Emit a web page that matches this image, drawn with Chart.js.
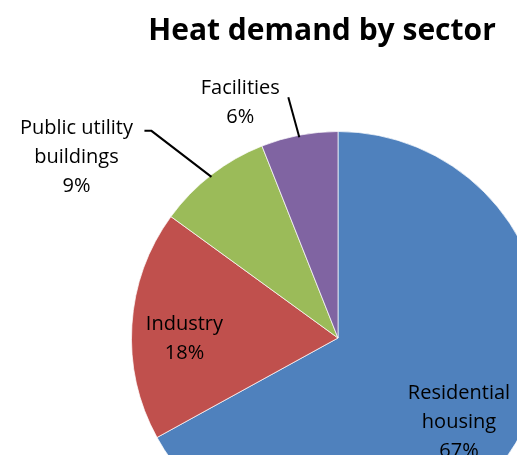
<!DOCTYPE html>
<html>
<head>
<meta charset="utf-8">
<script src="https://cdn.jsdelivr.net/npm/chart.js@4"></script>
<style>
  html, body { margin: 0; padding: 0; overflow: hidden; background: #fff; }
  #wrap { position: absolute; left: 0; top: 0; }
</style>
</head>
<body>
<div id="wrap"><canvas id="heatChart" width="676" height="676"></canvas></div>
<script>
var chartTitle = "Heat demand by sector";
var sectorNames = [["Residential", "housing"], ["Industry"], ["Public utility", "buildings"], ["Facilities"]];
var sectorShare = [67, 18, 9, 6];
var sectorColors = ["#4F81BD", "#C0504D", "#9BBB59", "#8064A2"];

// where each label sits: inside the slice, or outside with a leader line
var labelPlace = [
    { inside: true, r: 0.72, dx: -7, dy: 9 },
    { inside: true, r: 0.745, dx: 0, dy: 10 },
    { inside: false, dx: -135, dy: -18, elbow: [-60, -44], lineEnd: [-67, -44] },
    { inside: false, dx: -59, dy: -32, elbow: [-11, -38], lineEnd: [-11, -38] }
];

var labelFont = "20px 'Open Sans'";
var lineGap = 29;

var pieLabels = {
    id: 'pieLabels',
    afterDatasetsDraw: function (chart) {
        var ctx = chart.ctx;
        var meta = chart.getDatasetMeta(0);
        ctx.save();
        ctx.fillStyle = "#000";
        ctx.textAlign = "center";
        ctx.textBaseline = "middle";

        // title
        ctx.font = "bold 30px 'Open Sans'";
        ctx.fillText(chartTitle, 322, 31);

        ctx.font = labelFont;
        for (var i = 0; i < meta.data.length; i++) {
            var arc = meta.data[i];
            var mid = (arc.startAngle + arc.endAngle) / 2;
            var lines = sectorNames[i].concat([sectorShare[i] + "%"]);
            var p = labelPlace[i];
            var cx, cy;
            if (p.inside) {
                cx = arc.x + Math.cos(mid) * arc.outerRadius * p.r + p.dx;
                cy = arc.y + Math.sin(mid) * arc.outerRadius * p.r + p.dy;
            } else {
                var ex = arc.x + Math.cos(mid) * arc.outerRadius;
                var ey = arc.y + Math.sin(mid) * arc.outerRadius;
                cx = ex + p.dx;
                cy = ey + p.dy;
                ctx.beginPath();
                ctx.strokeStyle = "#000";
                ctx.lineWidth = 2;
                ctx.moveTo(ex, ey + 2);
                ctx.lineTo(ex + p.elbow[0], ey + p.elbow[1]);
                ctx.lineTo(ex + p.lineEnd[0], ey + p.lineEnd[1]);
                ctx.stroke();
            }
            var top = cy - (lines.length - 1) * lineGap / 2;
            for (var j = 0; j < lines.length; j++) {
                ctx.fillText(lines[j], cx, top + j * lineGap);
            }
        }
        ctx.restore();
    }
};

var canvas = document.getElementById('heatChart').getContext('2d');
var pieChart = new Chart(canvas, {
    type: 'pie',
    data: {
        labels: sectorNames.map(function (n) { return n.join(" "); }),
        datasets: [{
            data: sectorShare,
            backgroundColor: sectorColors,
            borderColor: "rgba(255,255,255,0.7)",
            borderWidth: 1
        }]
    },
    options: {
        responsive: false,
        animation: false,
        layout: { padding: 131 },
        plugins: {
            legend: { display: false },
            tooltip: { enabled: false },
            title: { display: false }
        }
    },
    plugins: [pieLabels]
});
</script>
</body>
</html>
